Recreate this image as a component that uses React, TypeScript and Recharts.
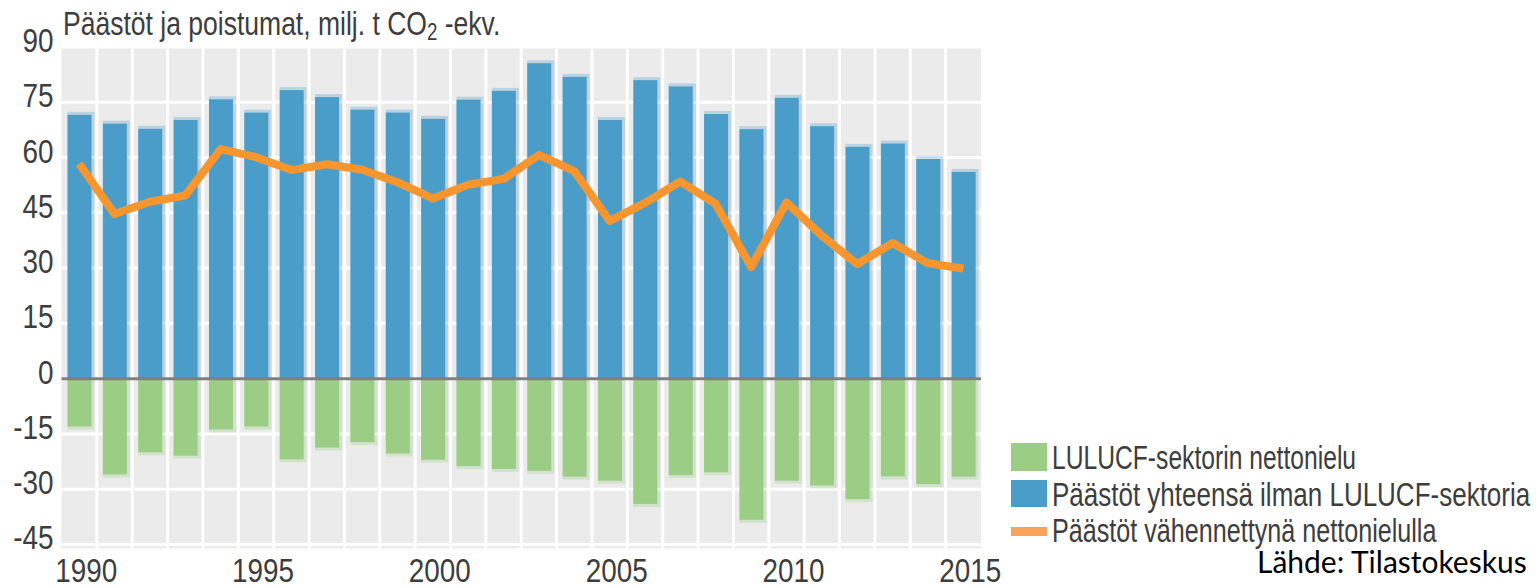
import {
  Bar,
  CartesianGrid,
  ComposedChart,
  Line,
  ReferenceLine,
  XAxis,
  YAxis,
} from 'recharts';

const YEARS = [
  '1990', '1991', '1992', '1993', '1994', '1995', '1996', '1997', '1998', '1999',
  '2000', '2001', '2002', '2003', '2004', '2005', '2006', '2007', '2008', '2009',
  '2010', '2011', '2012', '2013', '2014', '2015',
];
// Päästöt yhteensä ilman LULUCF-sektoria
const EMISSIONS = [
  71.6, 69.2, 67.8, 70.2, 75.8, 72.2, 78.3, 76.4, 73.0, 72.2,
  70.5, 75.7, 78.1, 85.6, 81.9, 70.2, 81.0, 79.3, 71.8, 67.7,
  76.2, 68.5, 62.9, 63.8, 59.6, 56.1,
];
// LULUCF-sektorin nettonielu
const SINK = [
  -13.0, -26.0, -20.0, -20.9, -13.8, -13.0, -21.9, -18.7, -17.2, -20.3,
  -22.0, -23.7, -24.5, -25.0, -26.6, -27.7, -34.0, -26.2, -25.4, -38.3,
  -27.7, -29.0, -32.7, -26.5, -28.6, -26.6,
];
// Päästöt vähennettynä nettonielulla
const NET = [
  58.3, 44.7, 48.0, 49.7, 62.3, 60.1, 56.6, 58.2, 56.7, 53.3,
  48.9, 52.6, 54.2, 60.7, 56.3, 42.8, 47.7, 53.5, 47.4, 30.3,
  47.8, 38.8, 31.1, 36.8, 31.3, 29.9,
];
const Y_TICKS = [-45, -30, -15, 0, 15, 30, 45, 60, 75, 90];

const data = YEARS.map((year, i) => ({
  year,
  emissions: EMISSIONS[i],
  sink: SINK[i],
  net: NET[i],
}));

// no narrow font installed, so squeeze Liberation Sans like Arial Narrow
const FONT = "'Liberation Sans', Arial, sans-serif";
const TEXT = '#3d3d3d';
const BLUE = '#4b9dc9';
const GREEN = '#9ccd84';
const ORANGE = '#f7962f';

function Narrow({ x, y, anchor = 'start', size = 34, squeeze = 0.82, children }: any) {
  return (
    <text
      transform={`translate(${x},${y}) scale(${squeeze},1)`}
      textAnchor={anchor}
      fontFamily={FONT}
      fontSize={size}
      fill={TEXT}
    >
      {children}
    </text>
  );
}

function makeShape(up: boolean) {
  return function ShadowBar(props: any) {
    const { x, y, width, height, fill } = props;
    if (x == null || y == null) return null;
    const top = Math.min(y, y + height);
    const h = Math.abs(height);
    return (
      <g>
        <rect x={x} y={up ? top - 3 : top} width={width + 3} height={h + 3} fill={fill} opacity={0.3} />
        <rect x={x} y={top} width={width} height={h} fill={fill} />
      </g>
    );
  };
}
const UpBar = makeShape(true);
const DownBar = makeShape(false);

function YTick({ x, y, payload }: any) {
  return <Narrow x={x} y={y + 5} anchor="end">{payload.value}</Narrow>;
}

function XTick({ x, y, payload }: any) {
  return <Narrow x={x + 7} y={y + 24} anchor="middle">{payload.value}</Narrow>;
}

function bandEdges({ offset }: any) {
  const step = offset.width / YEARS.length;
  return YEARS.slice(1).map((_, i) => offset.left + step * (i + 1));
}

export default function App() {
  return (
    <div style={{ position: 'absolute', left: 0, top: 0, width: 1539, height: 587, background: '#fff' }}>
      <ComposedChart
        width={1012}
        height={587}
        data={data}
        stackOffset="sign"
        margin={{ top: 47, right: 31, bottom: 0, left: 0 }}
      >
        <CartesianGrid
          fill="#ebebeb"
          stroke="#ffffff"
          strokeWidth={3}
          verticalCoordinatesGenerator={bandEdges}
        />
        <XAxis
          dataKey="year"
          interval={4}
          tick={<XTick />}
          tickLine={false}
          axisLine={false}
          height={37}
        />
        <YAxis
          domain={[-46.5, 90]}
          ticks={Y_TICKS}
          allowDataOverflow
          tick={<YTick />}
          tickLine={false}
          axisLine={false}
          width={61.5}
        />
        <Bar dataKey="emissions" stackId="a" fill={BLUE} barSize={24} shape={UpBar} isAnimationActive={false} />
        <Bar dataKey="sink" stackId="a" fill={GREEN} barSize={24} shape={DownBar} isAnimationActive={false} />
        <ReferenceLine y={0} stroke="#7f7f7f" strokeWidth={3} />
        <Line
          dataKey="net"
          type="linear"
          stroke={ORANGE}
          strokeWidth={8}
          strokeLinejoin="round"
          dot={false}
          activeDot={false}
          isAnimationActive={false}
        />
      </ComposedChart>
      <svg width={1539} height={587} style={{ position: 'absolute', left: 0, top: 0, pointerEvents: 'none' }}>
        <Narrow x={63} y={35} squeeze={0.78}>
          Päästöt ja poistumat, milj. t CO
          <tspan fontSize={24} dy={5}>2</tspan>
          <tspan dy={-5}> -ekv.</tspan>
        </Narrow>
        <rect x={1011} y={443} width={36} height={28} fill={GREEN} />
        <Narrow x={1052} y={468.5} squeeze={0.725}>LULUCF-sektorin nettonielu</Narrow>
        <rect x={1011} y={480} width={36} height={27} fill={BLUE} />
        <Narrow x={1052} y={505.5} squeeze={0.765}>Päästöt yhteensä ilman LULUCF-sektoria</Narrow>
        <rect x={1011} y={527} width={36} height={9} fill="#f9a259" />
        <Narrow x={1052} y={542} squeeze={0.74}>Päästöt vähennettynä nettonielulla</Narrow>
        <text x={1257} y={573} fontFamily="Lato, 'Open Sans', sans-serif" fontSize={30} fill="#000">
          Lähde: Tilastokeskus
        </text>
      </svg>
    </div>
  );
}
